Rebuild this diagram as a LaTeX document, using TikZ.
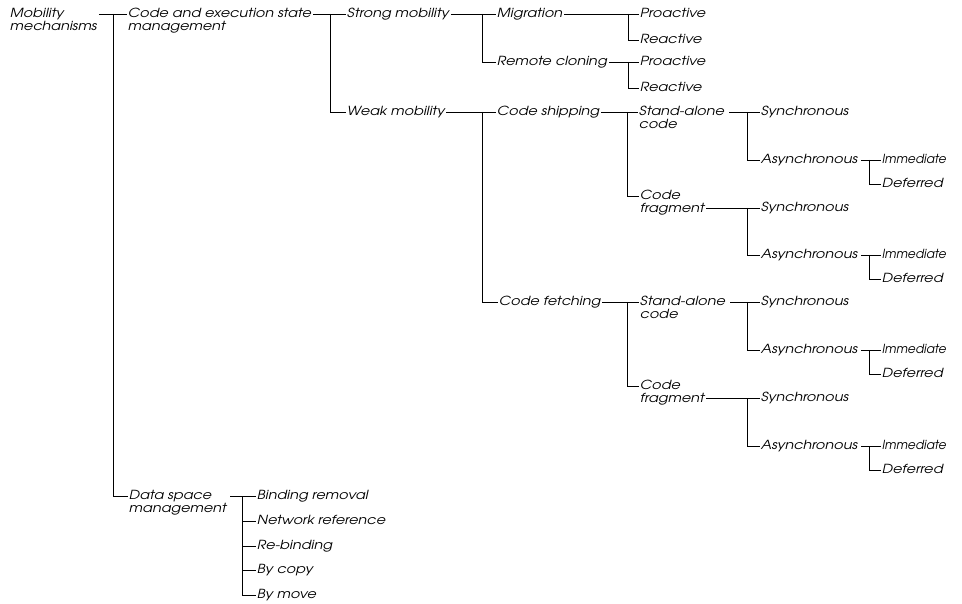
\documentclass[tikz,border=0pt]{standalone}
\usepackage{fontspec}
\newfontfamily\lblfont{texgyreadventor-italic.otf}[FakeStretch=1.15]
\newfontfamily\lblnarrow{texgyreadventor-italic.otf}[FakeStretch=0.97]
\newcommand\two[2]{\begin{tabular}[t]{@{}l@{}}#1\\#2\end{tabular}}
\tikzset{
  lbl/.style={anchor=west, inner xsep=1.5pt, inner ysep=0pt, text height=7pt, text depth=0pt,
    font=\lblfont\fontsize{12.5}{12}\selectfont},
  lbln/.style={lbl, font=\lblnarrow\fontsize{12.5}{12}\selectfont},
  conn/.style={line width=0.75pt}
}
\begin{document}
\begin{tikzpicture}[x=1pt,y=-1pt]
\useasboundingbox (0,0) rectangle (962,604);
% nodes
\node[lbl] (mm) at (8.5,14) {\two{Mobility}{mechanisms}};
\node[lbl] (cesm) at (126.5,14) {\two{Code and execution state}{management}};
\node[lbl] (dsm) at (127.5,496) {\two{Data space}{management}};
\node[lbl] (strong) at (345.5,14) {Strong mobility};
\node[lbl] (weak) at (345.5,112) {Weak mobility};
\node[lbl] (mig) at (495.5,14) {Migration};
\node[lbl] (rc) at (495.5,62) {Remote cloning};
\node[lbl] (pa1) at (638.5,14) {Proactive};
\node[lbl] (ra1) at (638.5,40) {Reactive};
\node[lbl] (pa2) at (638.5,62) {Proactive};
\node[lbl] (ra2) at (638.5,88) {Reactive};
\node[lbl] (cs) at (495.5,112) {Code shipping};
\node[lbl] (cf) at (497.5,302) {Code fetching};
\node[lbl] (sa1) at (637.5,112) {\two{Stand-alone}{code}};
\node[lbl] (fr1) at (638.5,196) {\two{Code}{fragment}};
\node[lbl] (sa2) at (638.5,302) {\two{Stand-alone}{code}};
\node[lbl] (fr2) at (638.5,386) {\two{Code}{fragment}};
\node[lbl] (sy1) at (759.5,112) {Synchronous};
\node[lbl] (as1) at (759.5,160) {Asynchronous};
\node[lbln] (im1) at (880.5,160) {Immediate};
\node[lbl] (de1) at (880.5,184) {Deferred};
\node[lbl] (sy2) at (759.5,208) {Synchronous};
\node[lbl] (as2) at (759.5,255) {Asynchronous};
\node[lbln] (im2) at (880.5,255) {Immediate};
\node[lbl] (de2) at (880.5,279) {Deferred};
\node[lbl] (sy3) at (759.5,302) {Synchronous};
\node[lbl] (as3) at (759.5,350) {Asynchronous};
\node[lbln] (im3) at (880.5,350) {Immediate};
\node[lbl] (de3) at (880.5,374) {Deferred};
\node[lbl] (sy4) at (759.5,398) {Synchronous};
\node[lbl] (as4) at (759.5,446) {Asynchronous};
\node[lbln] (im4) at (880.5,446) {Immediate};
\node[lbl] (de4) at (880.5,470) {Deferred};
\node[lbl] (br) at (255.5,496) {Binding removal};
\node[lbl] (nr) at (255.5,521) {Network reference};
\node[lbl] (rb) at (255.5,546) {Re-binding};
\node[lbl] (bc) at (255.5,570) {By copy};
\node[lbl] (bm) at (255.5,595) {By move};
% fork columns
\coordinate (k0) at (113,0);
\coordinate (k1) at (330,0);
\coordinate (k2) at (482,0);
\coordinate (k3) at (628,0);
\coordinate (k4) at (627,0);
\coordinate (k5) at (747,0);
\coordinate (k6) at (869,0);
\coordinate (k7) at (242,0);
% connectors
\begin{scope}[conn]
\draw (mm.east) -- (cesm.west);   \draw (cesm.west -| k0) |- (dsm.west);
\draw (cesm.east) -- (strong.west); \draw (strong.west -| k1) |- (weak.west);
\draw (strong.east) -- (mig.west); \draw (mig.west -| k2) |- (rc.west);
\draw (mig.east) -- (pa1.west);   \draw (pa1.west -| k3) |- (ra1.west);
\draw (rc.east) -- (pa2.west);    \draw (pa2.west -| k3) |- (ra2.west);
\draw (weak.east) -- (cs.west);   \draw (cs.west -| k2) |- (cf.west);
\draw (cs.east) -- (sa1.west);    \draw (sa1.west -| k4) |- (fr1.west);
\draw (cf.east) -- (sa2.west);    \draw (sa2.west -| k4) |- (fr2.west);
\draw ([xshift=3pt]sa1.east) -- (sy1.west);   \draw (sy1.west -| k5) |- (as1.west);
\draw ([xshift=2pt]as1.east) -- (im1.west);   \draw (im1.west -| k6) |- (de1.west);
\draw ([yshift=-12pt]fr1.east) -- (sy2.west); \draw (sy2.west -| k5) |- (as2.west);
\draw ([xshift=2pt]as2.east) -- (im2.west);   \draw (im2.west -| k6) |- (de2.west);
\draw ([xshift=3pt]sa2.east) -- (sy3.west);   \draw (sy3.west -| k5) |- (as3.west);
\draw ([xshift=2pt]as3.east) -- (im3.west);   \draw (im3.west -| k6) |- (de3.west);
\draw ([yshift=-12pt]fr2.east) -- (sy4.west); \draw (sy4.west -| k5) |- (as4.west);
\draw ([xshift=2pt]as4.east) -- (im4.west);   \draw (im4.west -| k6) |- (de4.west);
\draw ([xshift=2pt]dsm.east) -- (br.west);    \draw (br.west -| k7) |- (bm.west);
\draw (nr.west -| k7) -- (nr.west);
\draw (rb.west -| k7) -- (rb.west);
\draw (bc.west -| k7) -- (bc.west);
\end{scope}
\end{tikzpicture}
\end{document}
